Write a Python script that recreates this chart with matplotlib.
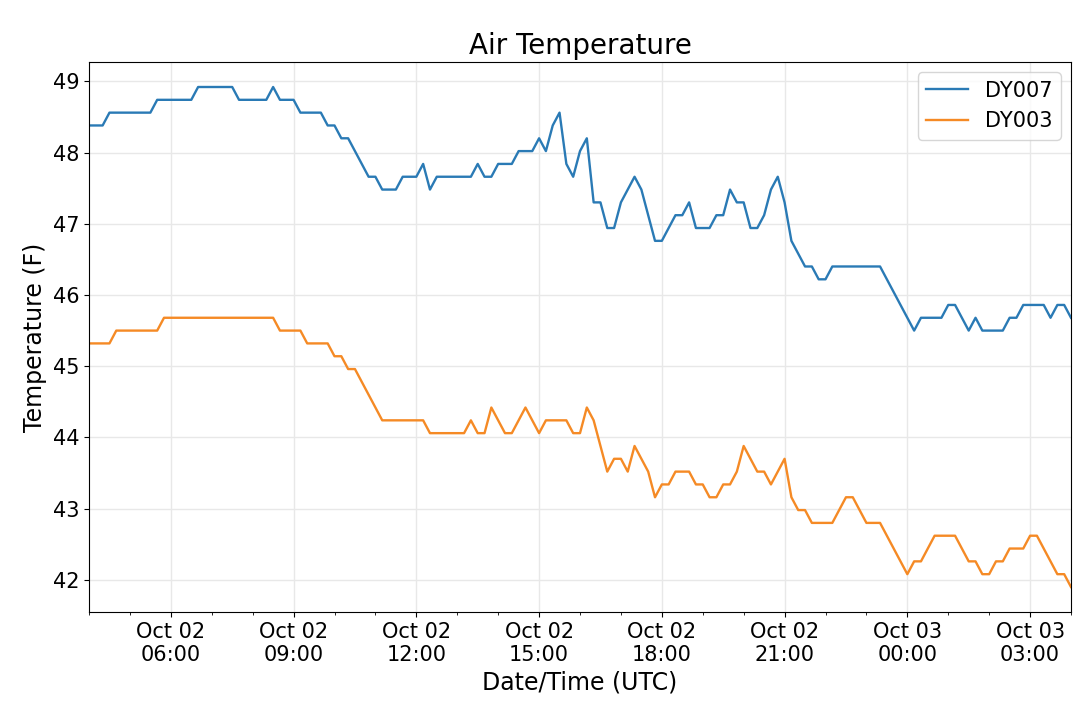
import numpy as np
import matplotlib
matplotlib.use("Agg")
import matplotlib.pyplot as plt
import matplotlib.dates as mdates

start_time = np.datetime64("2019-10-02T04:00")
step = np.timedelta64(10, "m")

dy007 = [
    48.38, 48.38, 48.38, 48.56, 48.56, 48.56, 48.56, 48.56, 48.56, 48.56,
    48.74, 48.74, 48.74, 48.74, 48.74, 48.74, 48.92, 48.92, 48.92, 48.92,
    48.92, 48.92, 48.74, 48.74, 48.74, 48.74, 48.74, 48.92, 48.74, 48.74,
    48.74, 48.56, 48.56, 48.56, 48.56, 48.38, 48.38, 48.20, 48.20, 48.02,
    47.84, 47.66, 47.66, 47.48, 47.48, 47.48, 47.66, 47.66, 47.66, 47.84,
    47.48, 47.66, 47.66, 47.66, 47.66, 47.66, 47.66, 47.84, 47.66, 47.66,
    47.84, 47.84, 47.84, 48.02, 48.02, 48.02, 48.20, 48.02, 48.38, 48.56,
    47.84, 47.66, 48.02, 48.20, 47.30, 47.30, 46.94, 46.94, 47.30, 47.48,
    47.66, 47.48, 47.12, 46.76, 46.76, 46.94, 47.12, 47.12, 47.30, 46.94,
    46.94, 46.94, 47.12, 47.12, 47.48, 47.30, 47.30, 46.94, 46.94, 47.12,
    47.48, 47.66, 47.30, 46.76, 46.58, 46.40, 46.40, 46.22, 46.22, 46.40,
    46.40, 46.40, 46.40, 46.40, 46.40, 46.40, 46.40, 46.22, 46.04, 45.86,
    45.68, 45.50, 45.68, 45.68, 45.68, 45.68, 45.86, 45.86, 45.68, 45.50,
    45.68, 45.50, 45.50, 45.50, 45.50, 45.68, 45.68, 45.86, 45.86, 45.86,
    45.86, 45.68, 45.86, 45.86, 45.68,
]

dy003 = [
    45.32, 45.32, 45.32, 45.32, 45.50, 45.50, 45.50, 45.50, 45.50, 45.50,
    45.50, 45.68, 45.68, 45.68, 45.68, 45.68, 45.68, 45.68, 45.68, 45.68,
    45.68, 45.68, 45.68, 45.68, 45.68, 45.68, 45.68, 45.68, 45.50, 45.50,
    45.50, 45.50, 45.32, 45.32, 45.32, 45.32, 45.14, 45.14, 44.96, 44.96,
    44.78, 44.60, 44.42, 44.24, 44.24, 44.24, 44.24, 44.24, 44.24, 44.24,
    44.06, 44.06, 44.06, 44.06, 44.06, 44.06, 44.24, 44.06, 44.06, 44.42,
    44.24, 44.06, 44.06, 44.24, 44.42, 44.24, 44.06, 44.24, 44.24, 44.24,
    44.24, 44.06, 44.06, 44.42, 44.24, 43.88, 43.52, 43.70, 43.70, 43.52,
    43.88, 43.70, 43.52, 43.16, 43.34, 43.34, 43.52, 43.52, 43.52, 43.34,
    43.34, 43.16, 43.16, 43.34, 43.34, 43.52, 43.88, 43.70, 43.52, 43.52,
    43.34, 43.52, 43.70, 43.16, 42.98, 42.98, 42.80, 42.80, 42.80, 42.80,
    42.98, 43.16, 43.16, 42.98, 42.80, 42.80, 42.80, 42.62, 42.44, 42.26,
    42.08, 42.26, 42.26, 42.44, 42.62, 42.62, 42.62, 42.62, 42.44, 42.26,
    42.26, 42.08, 42.08, 42.26, 42.26, 42.44, 42.44, 42.44, 42.62, 42.62,
    42.44, 42.26, 42.08, 42.08, 41.90,
]

series_names = ["DY007", "DY003"]
series_colors = ["#2a7ab5", "#f58a25"]

times = start_time + step * np.arange(len(dy007))
times = times.astype("datetime64[ms]").astype(object)

fig = plt.figure(figsize=(10.8, 7.03), dpi=100)
ax = fig.add_axes([89 / 1080, 1 - 612 / 703, (1071 - 89) / 1080, (612 - 62) / 703])

for vals, name, col in zip([dy007, dy003], series_names, series_colors):
    ax.plot(times, vals, color=col, linewidth=1.7, label=name)

ax.set_xlim(times[0], times[-1])
ax.xaxis.set_major_locator(mdates.HourLocator(byhour=range(0, 24, 3)))
ax.xaxis.set_minor_locator(mdates.HourLocator())
ax.xaxis.set_major_formatter(mdates.DateFormatter("%b %d\n%H:%M"))

ax.grid(True, which="major", color="#e8e8e8", linewidth=1)
ax.set_axisbelow(True)
ax.tick_params(axis="both", which="major", labelsize=15)

ax.set_title("Air Temperature", fontsize=20)
ax.set_xlabel("Date/Time (UTC)", fontsize=17)
ax.set_ylabel("Temperature (F)", fontsize=17)
ax.legend(loc="upper right", fontsize=15)

fig.savefig("out.png", dpi=100)
